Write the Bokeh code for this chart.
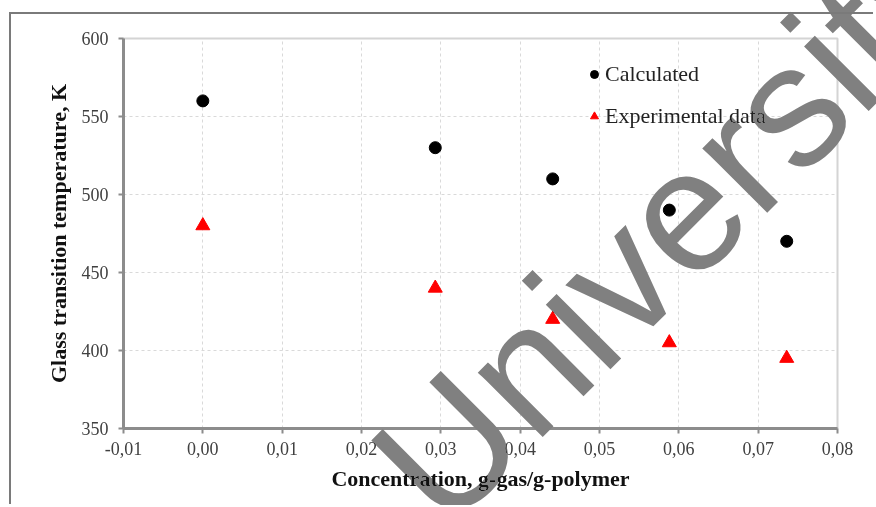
from bokeh.plotting import figure
from bokeh.models import FixedTicker, Legend, LegendItem, Range1d
from bokeh.layouts import column
from bokeh.core.properties import value
from bokeh.embed import file_html
from bokeh.resources import INLINE

# ---- data ----
conc = [0.0, 0.0293, 0.0441, 0.0588, 0.0736]
calculated = [560, 530, 510, 490, 470]
experimental = [480, 440, 420, 405, 395]

x_ticks = [-0.01, 0.0, 0.01, 0.02, 0.03, 0.04, 0.05, 0.06, 0.07, 0.08]
x_tick_labels = ["-0,01", "0,00", "0,01", "0,02", "0,03", "0,04", "0,05", "0,06", "0,07", "0,08"]
y_ticks = [350, 400, 450, 500, 550, 600]
y_tick_labels = ["350", "400", "450", "500", "550", "600"]

series_names = ["Calculated", "Experimental data"]
x_title = "Concentration, g-gas/g-polymer"
y_title = "Glass transition temperature, K"
watermark = ["University"]

SERIF = "Liberation Serif"

p = figure(width=864, height=492, output_backend="svg", toolbar_location=None,
           x_range=Range1d(-0.01, 0.08), y_range=Range1d(350, 600),
           min_border_left=112, min_border_top=24, min_border_right=38, min_border_bottom=78)
p.frame_align = False
p.styles = {"border-top": "2px solid #7a7a7a", "border-left": "2px solid #7a7a7a",
            "margin-left": "9px", "margin-top": "12px"}

p.outline_line_color = "#d4d4d4"
p.outline_line_width = 2
p.background_fill_color = "white"
p.border_fill_color = "white"

for g in (p.xgrid, p.ygrid):
    g.grid_line_color = "#d9d9d9"
    g.grid_line_dash = "3 3"
    g.grid_line_width = 1

p.xaxis.ticker = FixedTicker(ticks=x_ticks)
p.yaxis.ticker = FixedTicker(ticks=y_ticks)
p.xaxis.major_label_overrides = dict(zip(x_ticks, x_tick_labels))
p.yaxis.major_label_overrides = dict(zip(y_ticks, y_tick_labels))

for ax in (p.xaxis[0], p.yaxis[0]):
    ax.axis_line_color = "#8c8c8c"
    ax.axis_line_width = 3
    ax.major_tick_line_color = "#8c8c8c"
    ax.major_tick_line_width = 2
    ax.major_tick_out = 5
    ax.major_tick_in = 0
    ax.minor_tick_line_color = None
    ax.major_label_text_font = SERIF
    ax.major_label_text_font_size = "18px"
    ax.major_label_text_color = "#404040"
    ax.axis_label_text_font = SERIF
    ax.axis_label_text_font_style = "bold"
    ax.axis_label_text_font_size = "22px"
    ax.axis_label_text_color = "#111111"

p.xaxis.axis_label = x_title
p.yaxis.axis_label = y_title
p.xaxis.major_label_standoff = 8
p.yaxis.major_label_standoff = 10
p.xaxis.axis_label_standoff = 8
p.yaxis.axis_label_standoff = 8

r2 = p.scatter(conc, experimental, marker="triangle", size=14, color="red")
r1 = p.scatter(conc, calculated, marker="circle", size=12, color="black")

legend = Legend(items=[LegendItem(label=series_names[0], renderers=[r1]),
                       LegendItem(label=series_names[1], renderers=[r2])],
                location=(461, 297))
legend.background_fill_alpha = 0
legend.border_line_color = None
legend.padding = 0
legend.margin = 0
legend.spacing = 12
legend.glyph_width = 20
legend.glyph_height = 30
legend.label_height = 30
legend.label_standoff = 1
legend.label_text_font = SERIF
legend.label_text_font_size = "22px"
legend.label_text_color = "#222222"
p.add_layout(legend)

# ---- watermark overlay (a transparent figure over the whole page) ----
w = figure(width=876, height=507, output_backend="svg", toolbar_location=None,
           x_range=Range1d(0, 876), y_range=Range1d(0, 507),
           x_axis_type=None, y_axis_type=None,
           min_border_left=0, min_border_right=0, min_border_top=0, min_border_bottom=0)
w.frame_align = False
w.grid.visible = False
w.outline_line_color = None
w.background_fill_alpha = 0
w.border_fill_alpha = 0
w.styles = {"margin-top": "-506px", "mix-blend-mode": "darken", "pointer-events": "none"}
w.text(x=[403], y=[14], text=watermark, angle=45, angle_units="deg",
       text_font=value("Liberation Sans"), text_font_size="173px",
       text_color="#808080", text_align="left", text_baseline="alphabetic")

layout = column(p, w, spacing=0)
open("out.html", "w").write(file_html(layout, INLINE))
